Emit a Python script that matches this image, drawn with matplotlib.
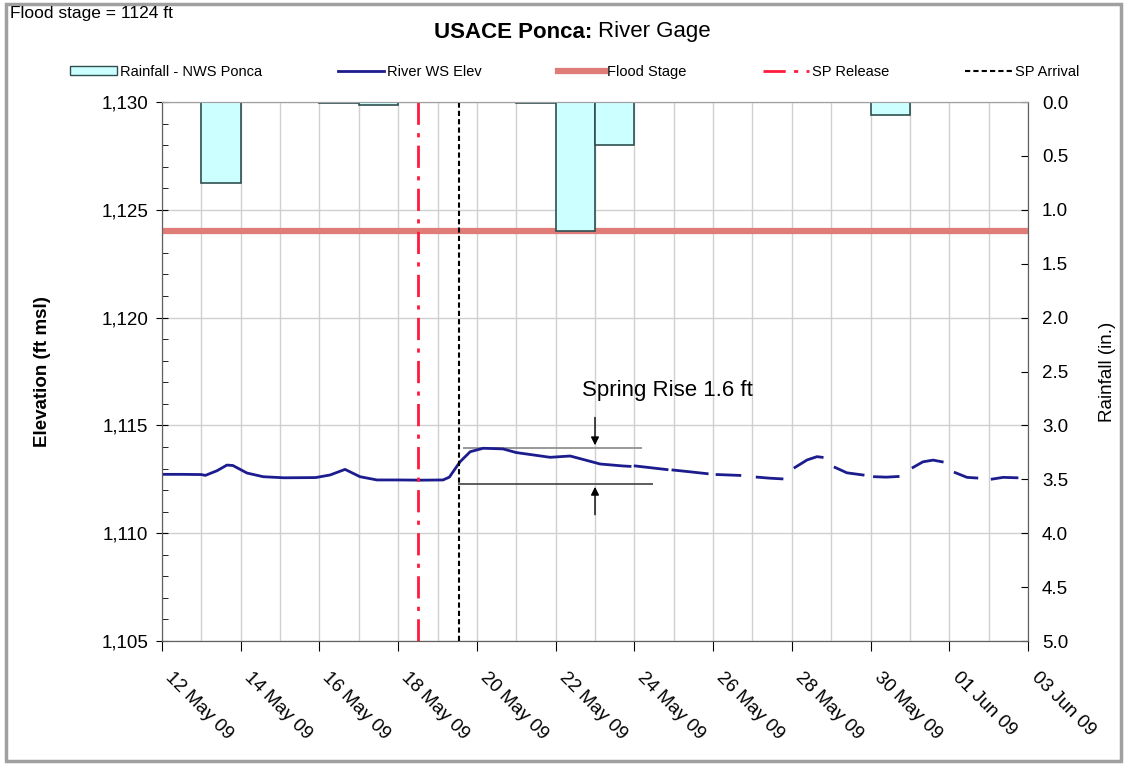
import datetime as dt
import numpy as np
import matplotlib
matplotlib.use("Agg")
import matplotlib.pyplot as plt
import matplotlib.dates as mdates
from matplotlib.patches import Rectangle, Patch
from matplotlib.lines import Line2D
from matplotlib.ticker import FuncFormatter, MultipleLocator

plt.rcParams["font.family"] = ["Liberation Sans", "DejaVu Sans"]

start = dt.datetime(2009, 5, 12)

# river water-surface elevation, day offsets from 12 May 09 (nan = missing data)
elev_days = [0.0, 0.5, 1.0, 1.1, 1.4, 1.65, 1.8, 2.16, 2.57, 3.1, 3.9, 4.27, 4.65,
             5.03, 5.46, 6.0, 6.6, 7.14, 7.3, 7.57, 7.83, 8.16, 8.66, 9.0, 9.86,
             10.37, 10.7, 11.13, 11.7, 11.89, np.nan,
             12.02, 12.4, 12.83, np.nan,
             12.98, 13.4, 13.85, np.nan,
             14.1, 14.4, 14.68, np.nan,
             15.12, 15.45, 15.75, np.nan,
             16.08, 16.39, 16.64, 16.77, np.nan,
             17.1, 17.4, 17.81, np.nan,
             18.1, 18.4, 18.7, np.nan,
             19.08, 19.33, 19.59, 19.82, np.nan,
             20.15, 20.45, 20.7, np.nan,
             21.09, 21.37, 21.72]
elev_ft = [1112.73, 1112.73, 1112.72, 1112.68, 1112.9, 1113.16, 1113.14, 1112.79,
           1112.62, 1112.57, 1112.58, 1112.7, 1112.96, 1112.62, 1112.47, 1112.47,
           1112.46, 1112.47, 1112.6, 1113.31, 1113.78, 1113.94, 1113.91, 1113.74,
           1113.52, 1113.58, 1113.42, 1113.21, 1113.12, 1113.1, np.nan,
           1113.12, 1113.04, 1112.95, np.nan,
           1112.93, 1112.85, 1112.76, np.nan,
           1112.72, 1112.7, 1112.68, np.nan,
           1112.6, 1112.55, 1112.52, np.nan,
           1113.05, 1113.4, 1113.55, 1113.52, np.nan,
           1113.05, 1112.8, 1112.7, np.nan,
           1112.62, 1112.6, 1112.63, np.nan,
           1113.05, 1113.31, 1113.39, 1113.31, np.nan,
           1112.81, 1112.59, 1112.56, np.nan,
           1112.51, 1112.59, 1112.57]

# daily rainfall (in.)
rain_dates = ["2009-05-13", "2009-05-16", "2009-05-17", "2009-05-21",
              "2009-05-22", "2009-05-23", "2009-05-30"]
rain_in = [0.75, 0.01, 0.03, 0.01, 1.2, 0.4, 0.12]

flood_stage = 1124
sp_release = dt.datetime(2009, 5, 18, 12)
sp_arrival = dt.datetime(2009, 5, 19, 13)
rise_top = 1113.95
rise_base = 1112.28

elev_x = np.array([mdates.date2num(start + dt.timedelta(days=float(d))) if not np.isnan(d)
                   else np.nan for d in elev_days])
rain_x = mdates.date2num([dt.datetime.strptime(s, "%Y-%m-%d") for s in rain_dates])
x0 = mdates.date2num(start)
x1 = mdates.date2num(dt.datetime(2009, 6, 3))

fig = plt.figure(figsize=(11.27, 7.65), dpi=100)
fig.patches.append(Rectangle((0.005, 0.005), 0.99, 0.99, transform=fig.transFigure,
                             fill=False, edgecolor="#a0a0a0", linewidth=2.5))

ax = fig.add_axes([162 / 1127, 1 - 641 / 765, (1028 - 162) / 1127, (641 - 102) / 765])
ax2 = ax.twinx()

# grid
ax.set_xlim(x0, x1)
ax.set_ylim(1105, 1130)
ax.xaxis.set_major_locator(mdates.DayLocator(interval=2))
ax.xaxis.set_minor_locator(mdates.DayLocator())
ax.xaxis.set_major_formatter(mdates.DateFormatter("%d %b %y"))
ax.yaxis.set_major_locator(MultipleLocator(5))
ax.yaxis.set_minor_locator(MultipleLocator(1))
ax.yaxis.set_major_formatter(FuncFormatter(lambda v, p: f"{v:,.0f}"))
ax.grid(True, which="major", axis="y", color="#d0d0d0", lw=1)
ax.grid(True, which="both", axis="x", color="#d0d0d0", lw=1)
ax.set_axisbelow(True)

ax.axhline(flood_stage, color="#e07c78", lw=4.5, zorder=3)
ax.plot(elev_x, elev_ft, color="#1c1c8e", lw=2, zorder=4)
ax.axvline(mdates.date2num(sp_release), color="#ff1a3c", lw=2, ls=(0, (8, 3, 1.5, 3)), zorder=5)
ax.axvline(mdates.date2num(sp_arrival), color="black", lw=1.5, ls=(0, (2.5, 1.5)), zorder=5)

# spring rise annotation
d = lambda v: x0 + v
ax.hlines(rise_top, d(7.65), d(12.2), color="#909090", lw=1.3, zorder=3)
ax.hlines(rise_base, d(7.52), d(12.48), color="#505050", lw=1.3, zorder=3)
ax.annotate("", xy=(d(11.0), rise_top), xytext=(d(11.0), rise_top + 1.55),
            arrowprops=dict(arrowstyle="-|>", color="black", lw=1, mutation_scale=12))
ax.annotate("", xy=(d(11.0), rise_base), xytext=(d(11.0), rise_base - 1.55),
            arrowprops=dict(arrowstyle="-|>", color="black", lw=1, mutation_scale=12))
ax.text(d(12.83), 1116.64, "Spring Rise 1.6 ft", fontsize=16, ha="center", va="center")

ax2.bar(rain_x, rain_in, width=1.0, align="edge", color="#ccffff",
        edgecolor="#2f4f4f", lw=1.2)
ax2.set_ylim(5, 0)
ax2.yaxis.set_major_locator(MultipleLocator(0.5))
ax2.yaxis.set_major_formatter(FuncFormatter(lambda v, p: f"{v:.1f}"))

for a in (ax, ax2):
    for s in a.spines.values():
        s.set_color("#606060")
    a.spines["top"].set_color("#a0a0a0")

ax.tick_params(axis="y", which="major", labelsize=13.5, direction="inout", length=8, pad=6)
ax.tick_params(axis="y", which="minor", direction="in", length=4)
ax.tick_params(axis="x", which="major", direction="out", length=7, labelsize=13.5, pad=22)
ax.tick_params(axis="x", which="minor", length=0)
ax2.tick_params(axis="y", labelsize=13.5, direction="in", length=5, pad=10)

for lbl in ax.get_xticklabels():
    lbl.set_rotation(-45)
    lbl.set_ha("left")
    lbl.set_va("bottom")
    lbl.set_rotation_mode("anchor")

ax.set_ylabel("Elevation (ft msl)", fontsize=13.5, fontweight="bold", labelpad=36)
ax2.set_ylabel("Rainfall (in.)", fontsize=13.5, rotation=90, labelpad=22)

fig.text(0.009, 0.982, "Flood stage = 1124 ft", fontsize=12.5, ha="left", va="center")
fig.text(592 / 1127, 1 - 32 / 765, "USACE Ponca:", fontsize=16, fontweight="bold",
         ha="right", va="center")
fig.text(598 / 1127, 1 - 32 / 765, "River Gage", fontsize=16, ha="left", va="center")

handles = [
    Patch(facecolor="#ccffff", edgecolor="#2f4f4f"),
    Line2D([], [], color="#1c1c8e", lw=2),
    Line2D([], [], color="#e07c78", lw=4.5),
    Line2D([], [], color="#ff1a3c", lw=2, ls=(0, (8, 3, 1.5, 3))),
    Line2D([], [], color="black", lw=1.5, ls=(0, (2.5, 1.5))),
]
labels = ["Rainfall - NWS Ponca", "River WS Elev", "Flood Stage", "SP Release", "SP Arrival"]
fig.legend(handles, labels, loc="center", bbox_to_anchor=(0.51, 1 - 72 / 765), ncol=5,
           frameon=False, fontsize=10.5, handlelength=3.2, handletextpad=0.2,
           columnspacing=5.2, handleheight=0.6)

fig.savefig("out.png", dpi=100)
